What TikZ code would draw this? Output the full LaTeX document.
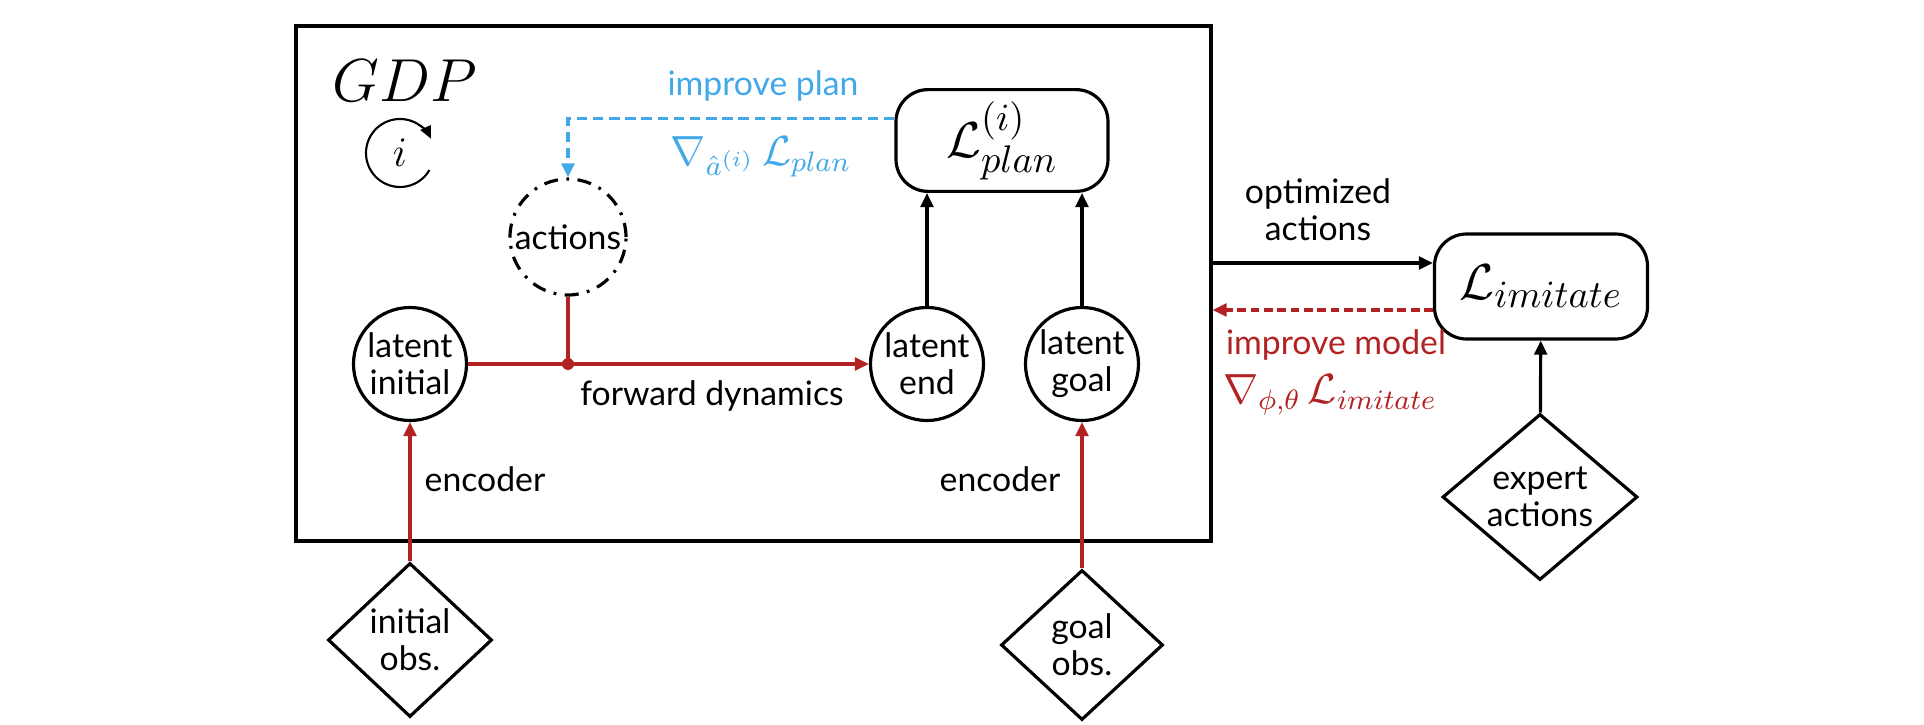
\documentclass[tikz,border=0pt]{standalone}
\usepackage[no-math]{fontspec}
\setmainfont{Lato}
\usetikzlibrary{shapes.geometric,arrows.meta}

\definecolor{gradred}{RGB}{178,34,34}
\definecolor{planblue}{RGB}{66,168,232}

\begin{document}
\begin{tikzpicture}[
  every node/.style={font=\fontsize{9.6}{10.5}\selectfont},
  latent/.style={circle,draw,line width=0.9pt,minimum size=1.13cm,inner sep=0pt,align=center},
  obs/.style={diamond,draw,line width=0.9pt,inner sep=0pt,align=center},
  loss/.style={rectangle,rounded corners=0.32cm,draw,line width=0.9pt,font=\fontsize{15}{18}\selectfont},
  arr/.style={-{Triangle[length=4pt,width=3.6pt]},line width=0.9pt},
  gradlabel/.style={font=\fontsize{11.5}{13}\selectfont}
]
\useasboundingbox (0,0) rectangle (19.24,7.24);

\node [draw,line width=0.9pt,minimum width=9.15cm,minimum height=5.15cm,inner sep=0pt] (gdp) at (7.535,4.405) {};
\node [font=\fontsize{17}{20}\selectfont] (gdplabel) at (4.05,6.43) {$GDP$};
\node [font=\fontsize{12}{14}\selectfont] (iter) at (4.00,5.71) {$i$};
\draw [-{Triangle[length=3.5pt,width=3.2pt]},line width=0.6pt] ([shift={(-30:0.34)}]iter.center) arc [start angle=-30,end angle=-335,radius=0.34];

\node [loss,minimum width=2.12cm,minimum height=0.93cm] (lplan) at (10.02,5.835) {$\mathcal{L}^{(i)}_{plan}$};
\node [circle,draw,line width=0.9pt,minimum size=1.16cm,inner sep=0pt,dash pattern=on 4pt off 2.4pt on 0.8pt off 2.4pt] (actions) at (5.68,4.87) {actions};

\node [latent] (linit) at (4.10,3.60) {latent\\initial};
\node [latent] (lend) at (9.27,3.60) {latent\\end};
\node [latent] (lgoal) at (10.82,3.60) {latent\\goal};

\node [obs,minimum width=1.64cm,minimum height=1.54cm] (initobs) at (4.10,0.84) {initial\\obs.};
\node [obs,minimum width=1.62cm,minimum height=1.50cm] (goalobs) at (10.82,0.79) {goal\\obs.};

\node (fwdlabel) at (7.12,3.28) {forward dynamics};
\node (encinit) at (4.85,2.45) {encoder};
\node (encgoal) at (10.00,2.45) {encoder};

\node [text=planblue] (planlabel) at (7.63,6.38) {improve plan};
\node [gradlabel,text=planblue] (plangrad) at (7.61,5.67) {$\nabla_{\hat{a}^{(i)}}\,\mathcal{L}_{plan}$};

\node [loss,minimum width=2.13cm,minimum height=1.05cm] (limit) at (15.41,4.375) {$\mathcal{L}_{imitate}$};
\node [obs,minimum width=1.95cm,minimum height=1.62cm] (expert) at (15.40,2.27) {expert\\actions};
\node [align=center] (optlabel) at (13.18,5.14) {optimized\\actions};
\node [text=gradred] (modellabel) at (13.36,3.79) {improve model};
\node [gradlabel,text=gradred] (modelgrad) at (13.30,3.29) {$\nabla_{\phi,\theta}\,\mathcal{L}_{imitate}$};

\coordinate (planout) at ([yshift=0.22cm]lplan.west);
\coordinate (optin) at ([yshift=0.235cm]limit.west);
\coordinate (gradout) at ([yshift=-0.235cm]limit.west);
\coordinate (fwd) at (actions.south |- linit.east);

\draw [arr,draw=planblue,dash pattern=on 3pt off 1.6pt] (planout) -| (actions.north);
\draw [gradred,line width=0.9pt] (actions.south) -- (fwd);
\draw [arr,draw=gradred] (linit) -- (lend);
\fill [gradred] (fwd) circle (0.06);

\draw [arr] (lend) -- (lend |- lplan.south);
\draw [arr] (lgoal) -- (lgoal |- lplan.south);
\draw [arr,draw=gradred] (initobs) -- (linit);
\draw [arr,draw=gradred] (goalobs) -- (lgoal);

\draw [arr] (gdp.east |- optin) -- (optin);
\draw [arr,draw=gradred,dash pattern=on 2.5pt off 1.3pt] (gradout) -- (gdp.east |- gradout);
\draw [arr] (expert) -- (limit);
\end{tikzpicture}
\end{document}
